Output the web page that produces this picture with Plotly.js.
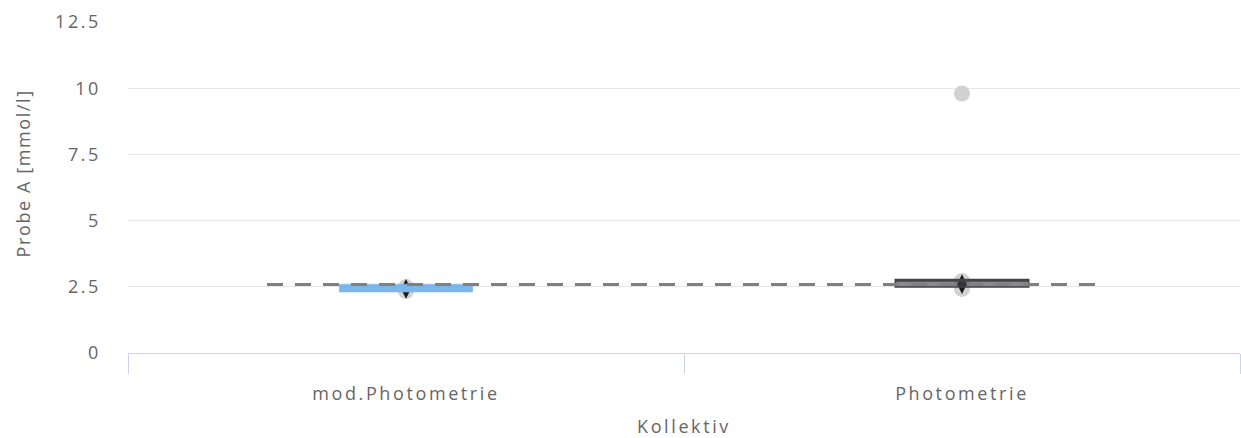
<!DOCTYPE html>
<html>
<head>
<meta charset="utf-8">
<script src="https://cdn.plot.ly/plotly-3.0.1.min.js"></script>
<style>
  html, body { margin: 0; padding: 0; background: #ffffff; }
  #chart { width: 1241px; height: 438px; }
  .main-svg .xtick text, .main-svg .ytick text, .main-svg .g-xtitle text { letter-spacing: 2.6px; }
  .main-svg .annotation-text { letter-spacing: 1.6px; }
</style>
</head>
<body>
<div id="chart"></div>
<script>
// ---- data ----
const categories = ["mod.Photometrie", "Photometrie"];
const boxQ1      = [2.30, 2.49];
const boxMedian  = [2.45, 2.72];
const boxQ3      = [2.60, 2.78];
const meanValues = [2.42, 2.60];
const pointCats  = ["mod.Photometrie", "mod.Photometrie", "Photometrie", "Photometrie", "Photometrie"];
const pointVals  = [2.49, 2.34, 2.72, 2.42, 9.80];
const referenceValue = 2.585;
const yTicks = [0, 2.5, 5, 7.5, 10, 12.5];
const xTitle = "Kollektiv";
const yTitle = "Probe A [mmol/l]";

const boxColors = ["#7cb5ec", "#434348"];
const boxFills  = ["#7cb5ec", "rgba(67,67,72,0.62)"];
const FONT = "'Open Sans', sans-serif";

const traces = [];
traces.push({
  type: "scatter", mode: "markers",
  x: pointCats, y: pointVals,
  marker: { symbol: "circle", size: 16, color: "#d2d2d2" },
  hoverinfo: "skip", showlegend: false
});
traces.push({
  type: "scatter", mode: "markers",
  x: categories, y: meanValues,
  marker: { symbol: "diamond-tall", size: 14, color: "#1a1a1a" },
  hoverinfo: "skip", showlegend: false
});
// boxes on an overlaid axis pair so that they are drawn above the markers
categories.forEach((c, i) => {
  traces.push({
    type: "box",
    xaxis: "x2", yaxis: "y2",
    x: [c],
    q1: [boxQ1[i]], median: [boxMedian[i]], q3: [boxQ3[i]],
    lowerfence: [boxQ1[i]], upperfence: [boxQ3[i]],
    width: 0.24,
    whiskerwidth: 0,
    fillcolor: boxFills[i],
    line: { color: boxColors[i], width: i === 0 ? 0.5 : 1.5 },
    boxpoints: false,
    hoverinfo: "skip", showlegend: false
  });
});

const yRange = [0, 12.5];
const layout = {
  width: 1241, height: 438,
  margin: { l: 128, r: 1, t: 22, b: 85 },
  paper_bgcolor: "#ffffff", plot_bgcolor: "#ffffff",
  font: { family: FONT, color: "#666666", size: 18 },
  showlegend: false,
  xaxis: {
    type: "category",
    categoryorder: "array", categoryarray: categories,
    range: [-0.5, 1.5],
    showline: true, linecolor: "#ccd6eb", linewidth: 1,
    showgrid: false, zeroline: false,
    tickson: "boundaries", ticks: "outside", ticklen: 20, tickwidth: 1, tickcolor: "#ccd6eb",
    tickfont: { family: FONT, size: 18, color: "#666666" },
    ticklabelstandoff: 24,
    title: { text: xTitle, font: { family: FONT, size: 18, color: "#666666" }, standoff: 16 },
    fixedrange: true
  },
  xaxis2: {
    type: "category", overlaying: "x",
    categoryorder: "array", categoryarray: categories,
    range: [-0.5, 1.5], visible: false, fixedrange: true
  },
  yaxis: {
    range: yRange,
    tickmode: "array", tickvals: yTicks,
    ticktext: yTicks.map(v => String(v)),
    showgrid: true, gridcolor: "#e6e6e6", gridwidth: 1,
    zeroline: false, showline: false, ticks: "",
    tickfont: { family: FONT, size: 18, color: "#666666" },
    ticklabelstandoff: 26,
    fixedrange: true
  },
  yaxis2: {
    overlaying: "y", range: yRange, visible: false, fixedrange: true
  },
  annotations: [{
    text: yTitle, textangle: -90,
    xref: "paper", yref: "paper", x: 0, y: 0.542,
    xanchor: "center", yanchor: "middle", xshift: -105,
    showarrow: false,
    font: { family: FONT, size: 18, color: "#666666" }
  }],
  shapes: [{
    type: "line", layer: "above",
    xref: "x", yref: "y",
    x0: -0.25, x1: 1.245, y0: referenceValue, y1: referenceValue,
    line: { color: "#808080", width: 3, dash: "16px,12px" }
  }]
};

Plotly.newPlot("chart", traces, layout, { displayModeBar: false, staticPlot: true });
</script>
</body>
</html>
